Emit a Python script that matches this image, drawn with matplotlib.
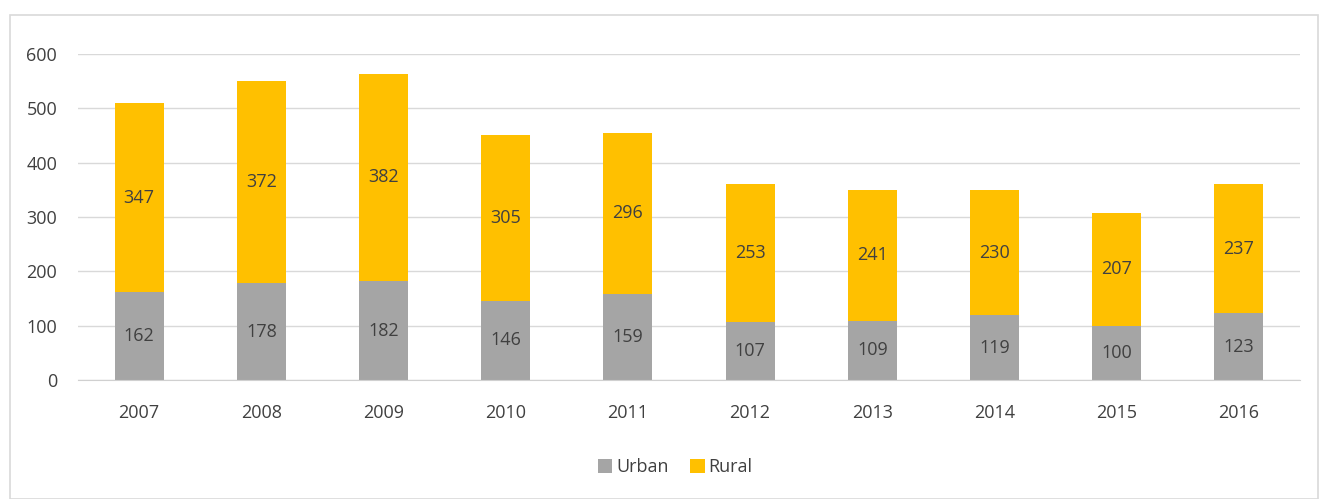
import matplotlib

matplotlib.use("Agg")
import matplotlib.pyplot as plt
from matplotlib.patches import Rectangle
import numpy as np

years = ["2007", "2008", "2009", "2010", "2011", "2012", "2013", "2014", "2015", "2016"]
urban = [162, 178, 182, 146, 159, 107, 109, 119, 100, 123]
rural = [347, 372, 382, 305, 296, 253, 241, 230, 207, 237]

plt.rcParams["font.family"] = ["Open Sans", "DejaVu Sans"]
text_color = "#404040"

fig = plt.figure(figsize=(13.2, 4.99), dpi=100)
fig.patches.append(Rectangle((10 / 1320, 0), 1308 / 1320, 484 / 499, transform=fig.transFigure,
                             fill=False, edgecolor="#d9d9d9", linewidth=1.2))
ax = fig.add_axes([78 / 1320, 119 / 499, 1222 / 1320, 326 / 499])

x = np.arange(len(years))
urban = np.array(urban)
rural = np.array(rural)
ax.bar(x, urban, width=0.4, color="#a5a5a5", label="Urban", zorder=2)
ax.bar(x, rural, width=0.4, bottom=urban, color="#ffc000", label="Rural", zorder=2)

for xi, u, r in zip(x, urban, rural):
    ax.text(xi, u / 2, str(u), ha="center", va="center", fontsize=13, color=text_color, zorder=3)
    ax.text(xi, u + r / 2, str(r), ha="center", va="center", fontsize=13, color=text_color, zorder=3)

ax.set_xlim(-0.5, len(years) - 0.5)
ax.set_ylim(0, 600)
ax.set_yticks(range(0, 601, 100))
ax.set_xticks(x)
ax.set_xticklabels(years)
ax.tick_params(axis="both", length=0, labelsize=13, colors=text_color)
ax.tick_params(axis="y", pad=15)
ax.tick_params(axis="x", pad=17)
ax.grid(axis="y", color="#d9d9d9", linewidth=1, zorder=0)
for side in ["top", "right", "left"]:
    ax.spines[side].set_visible(False)
ax.spines["bottom"].set_color("#d0d0d0")

fig.legend(loc="center", bbox_to_anchor=(675 / 1320, 1 - 467 / 499), ncol=2, frameon=False,
           fontsize=13, handlelength=0.8, handleheight=0.8, handletextpad=0.2, columnspacing=1.2,
           labelcolor=text_color)

fig.savefig("out.png", dpi=100)
